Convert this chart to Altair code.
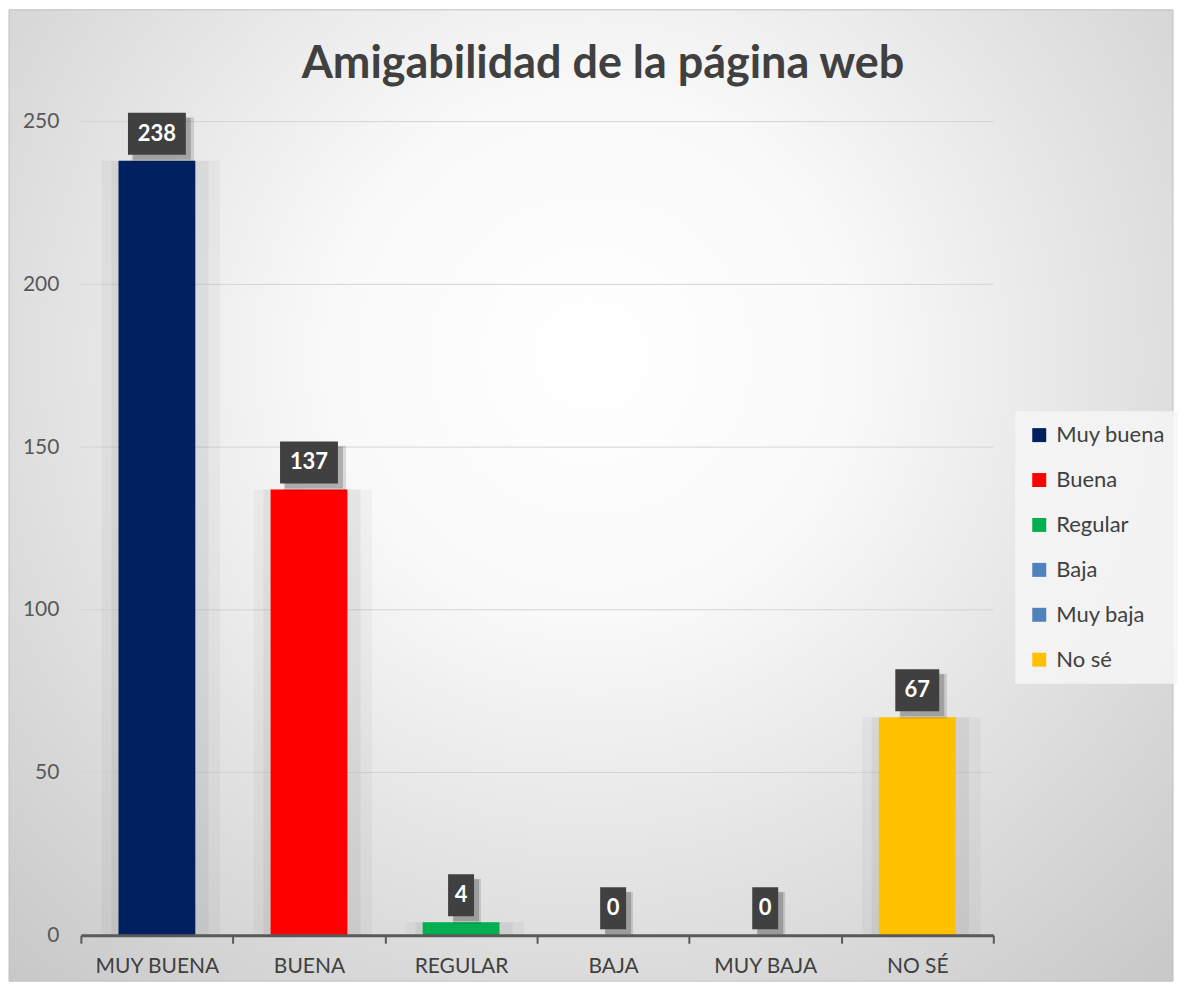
import altair as alt
import pandas as pd

categories = ["MUY BUENA", "BUENA", "REGULAR", "BAJA", "MUY BAJA", "NO SÉ"]
series = ["Muy buena", "Buena", "Regular", "Baja", "Muy baja", "No sé"]
values = [238, 137, 4, 0, 0, 67]
colors = ["#002060", "#FF0000", "#00B050", "#4F81BD", "#4F81BD", "#FFC000"]
y_ticks = [0, 50, 100, 150, 200, 250]
title_text = "Amigabilidad de la página web"

df = pd.DataFrame({"cat": categories, "serie": series, "valor": values})
grid_df = pd.DataFrame({"valor": y_ticks[1:]})
one = pd.DataFrame({"k": [0]})

W, H = 914, 815
FONT = "Lato"
TXT = "#404040"

x_enc = alt.X(
    "cat:N", sort=categories,
    scale=alt.Scale(paddingInner=0, paddingOuter=0),
    axis=alt.Axis(title=None, labelAngle=0, labelFont=FONT, labelFontSize=21,
                  labelColor=TXT, tickBand="extent", tickColor="#595959",
                  tickSize=8, tickWidth=2, domainColor="#595959", domainWidth=3,
                  labelPadding=12, zindex=1),
)
y_scale = alt.Scale(domain=[0, 250], nice=False)
y_enc = alt.Y("valor:Q", scale=y_scale,
              axis=alt.Axis(values=y_ticks, grid=False, domain=False, ticks=False,
                            labelFont=FONT, labelFontSize=21, labelColor="#595959",
                            labelPadding=22, title=None, zindex=1))

bg_fill = {
    "gradient": "radial",
    "x1": 0.5, "y1": 0.38, "r1": 0,
    "x2": 0.5, "y2": 0.38, "r2": 0.75,
    "stops": [
        {"offset": 0, "color": "#ffffff"},
        {"offset": 0.3, "color": "#f9f9f9"},
        {"offset": 1, "color": "#c6c6c6"},
    ],
}
bg = alt.Chart(one).mark_rect(fill=bg_fill, stroke="#c0c0c0", strokeWidth=1).encode(
    x=alt.value(-72), x2=alt.value(W + 180), y=alt.value(-112), y2=alt.value(H + 46)
)

grid = alt.Chart(grid_df).mark_rule(color="#d4d4d4", strokeWidth=1).encode(
    y=y_enc, x=alt.value(0), x2=alt.value(W)
)

base = alt.Chart(df)
pos = base.transform_filter("datum.valor > 0")

sh1 = pos.mark_bar(color="#000000", opacity=0.03, width=alt.RelativeBandSize(0.78),
                   xOffset=4).encode(x=x_enc, y=y_enc)
sh2 = pos.mark_bar(color="#000000", opacity=0.045, width=alt.RelativeBandSize(0.64),
                   xOffset=3).encode(x=x_enc, y=y_enc)

bars = base.mark_bar(width=alt.RelativeBandSize(0.505)).encode(
    x=x_enc,
    y=y_enc,
    color=alt.Color(
        "serie:N", sort=series,
        scale=alt.Scale(domain=series, range=colors),
        legend=alt.Legend(title=None, orient="none", legendX=936, legendY=290,
                          symbolType="square", symbolSize=196, symbolStrokeWidth=0,
                          labelFont=FONT, labelFontSize=22, labelColor=TXT,
                          rowPadding=23, padding=13, labelOffset=6, labelLimit=200,
                          fillColor="rgba(246,246,246,0.85)"),
    ),
)

box_paths = [
    "M-0.448,-0.724H0.448V0.724H-0.448Z",
    "M-0.759,-0.724H0.759V0.724H-0.759Z",
    "M-1,-0.724H1V0.724H-1Z",
]
shape_enc = alt.Shape("digits:O", scale=alt.Scale(domain=[1, 2, 3], range=box_paths), legend=None)

dig = base.transform_calculate(digits="length(toString(datum.valor))")

boxsh2 = dig.mark_point(
    filled=True, size=3900, opacity=0.12, color="#000000", strokeWidth=0,
    xOffset=6, yOffset=-21
).encode(x=x_enc, y=y_enc, shape=shape_enc)

boxsh = dig.mark_point(
    filled=True, size=3364, opacity=0.2, color="#000000", strokeWidth=0,
    xOffset=5, yOffset=-22
).encode(x=x_enc, y=y_enc, shape=shape_enc)

box = dig.mark_point(
    filled=True, size=3364, opacity=1, color="#404040", strokeWidth=0, yOffset=-27
).encode(x=x_enc, y=y_enc, shape=shape_enc)

txt = base.mark_text(color="white", font=FONT, fontWeight="bold", fontSize=22,
                     yOffset=-27, baseline="middle", align="center").encode(
    x=x_enc, y=y_enc, text="valor:Q")

title = alt.Chart(one).mark_text(
    text=title_text, font=FONT, fontWeight="bold", fontSize=45, color=TXT,
    align="center", baseline="middle"
).encode(x=alt.value(523), y=alt.value(-58))

chart = alt.layer(bg, grid, sh1, sh2, bars, boxsh2, boxsh, box, txt, title).properties(
    width=W, height=H, padding=0, background="white"
).configure_view(stroke=None)

chart.save("out.html", embed_options={"renderer": "svg", "actions": False})
